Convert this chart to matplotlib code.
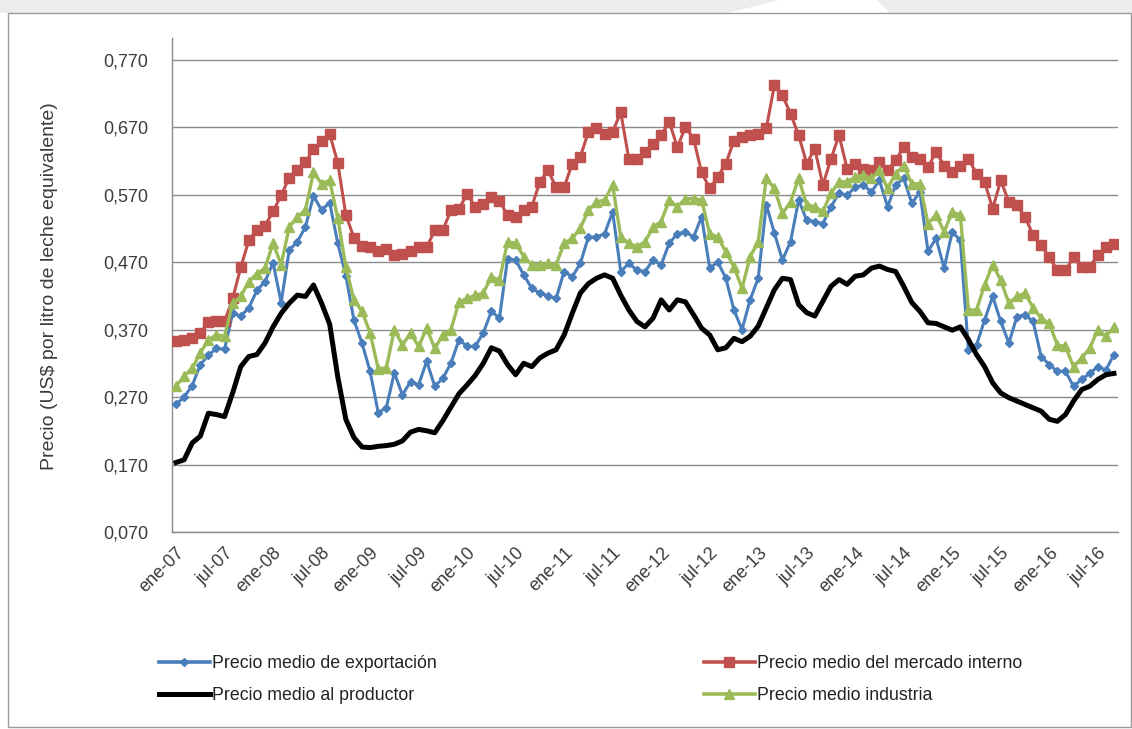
import matplotlib
matplotlib.use("Agg")
import matplotlib.pyplot as plt
from matplotlib.lines import Line2D
from matplotlib.patches import Rectangle, Polygon

# ---------------- data (monthly, ene-07 .. sep-16) ----------------
exportacion = [
    0.259, 0.270, 0.287, 0.318, 0.332, 0.342, 0.341, 0.394, 0.390, 0.402,
    0.428, 0.441, 0.469, 0.410, 0.488, 0.500, 0.522, 0.568, 0.547, 0.558,
    0.498, 0.450, 0.384, 0.350, 0.308, 0.247, 0.254, 0.306, 0.273, 0.293,
    0.288, 0.323, 0.286, 0.298, 0.320, 0.355, 0.345, 0.345, 0.365, 0.397,
    0.387, 0.475, 0.473, 0.451, 0.431, 0.424, 0.420, 0.416, 0.456, 0.448,
    0.468, 0.507, 0.507, 0.512, 0.544, 0.456, 0.468, 0.458, 0.456, 0.473,
    0.466, 0.498, 0.512, 0.515, 0.507, 0.537, 0.461, 0.470, 0.446, 0.399,
    0.370, 0.414, 0.446, 0.555, 0.513, 0.473, 0.500, 0.562, 0.532, 0.530,
    0.527, 0.552, 0.572, 0.569, 0.581, 0.584, 0.574, 0.591, 0.552, 0.584,
    0.594, 0.557, 0.574, 0.486, 0.505, 0.461, 0.515, 0.502, 0.340, 0.347,
    0.384, 0.419, 0.382, 0.350, 0.389, 0.392, 0.382, 0.330, 0.318, 0.308,
    0.308, 0.286, 0.296, 0.305, 0.315, 0.310, 0.333,
]
mercado_interno = [
    0.353, 0.355, 0.357, 0.365, 0.381, 0.383, 0.382, 0.416, 0.462, 0.502,
    0.518, 0.524, 0.545, 0.569, 0.595, 0.607, 0.618, 0.637, 0.649, 0.660,
    0.617, 0.540, 0.506, 0.494, 0.492, 0.487, 0.490, 0.480, 0.482, 0.487,
    0.492, 0.492, 0.517, 0.517, 0.547, 0.549, 0.571, 0.552, 0.556, 0.566,
    0.561, 0.539, 0.537, 0.547, 0.552, 0.589, 0.606, 0.581, 0.581, 0.616,
    0.626, 0.663, 0.668, 0.660, 0.663, 0.692, 0.623, 0.623, 0.633, 0.645,
    0.658, 0.678, 0.640, 0.670, 0.653, 0.603, 0.579, 0.596, 0.616, 0.650,
    0.655, 0.658, 0.660, 0.668, 0.732, 0.717, 0.690, 0.658, 0.616, 0.638,
    0.584, 0.623, 0.658, 0.608, 0.616, 0.608, 0.606, 0.618, 0.606, 0.621,
    0.640, 0.626, 0.623, 0.611, 0.633, 0.613, 0.603, 0.613, 0.623, 0.601,
    0.589, 0.549, 0.591, 0.559, 0.554, 0.537, 0.510, 0.495, 0.477, 0.458,
    0.458, 0.477, 0.463, 0.463, 0.480, 0.492, 0.497,
]
productor = [
    0.173, 0.177, 0.202, 0.212, 0.246, 0.244, 0.241, 0.276, 0.315, 0.330,
    0.333, 0.350, 0.374, 0.394, 0.409, 0.421, 0.419, 0.436, 0.409, 0.378,
    0.300, 0.237, 0.210, 0.196, 0.195, 0.197, 0.198, 0.200, 0.205, 0.218,
    0.222, 0.220, 0.217, 0.235, 0.255, 0.275, 0.288, 0.302, 0.320, 0.343,
    0.338, 0.318, 0.303, 0.320, 0.315, 0.328, 0.335, 0.340, 0.362, 0.394,
    0.424, 0.438, 0.446, 0.451, 0.446, 0.421, 0.399, 0.382, 0.374, 0.387,
    0.414, 0.399, 0.414, 0.411, 0.392, 0.372, 0.362, 0.340, 0.343, 0.357,
    0.352, 0.360, 0.375, 0.402, 0.429, 0.446, 0.444, 0.407, 0.395, 0.390,
    0.412, 0.434, 0.444, 0.437, 0.449, 0.451, 0.461, 0.464, 0.459, 0.456,
    0.434, 0.410, 0.397, 0.380, 0.379, 0.374, 0.369, 0.374, 0.355, 0.333,
    0.315, 0.291, 0.276, 0.269, 0.264, 0.259, 0.254, 0.249, 0.237, 0.234,
    0.244, 0.264, 0.281, 0.286, 0.296, 0.303, 0.305,
]
industria = [
    0.286, 0.301, 0.313, 0.335, 0.355, 0.362, 0.360, 0.409, 0.419, 0.441,
    0.453, 0.461, 0.498, 0.466, 0.522, 0.537, 0.547, 0.603, 0.586, 0.591,
    0.535, 0.463, 0.414, 0.397, 0.365, 0.312, 0.313, 0.370, 0.347, 0.365,
    0.345, 0.372, 0.342, 0.362, 0.370, 0.411, 0.416, 0.421, 0.424, 0.448,
    0.443, 0.500, 0.498, 0.478, 0.466, 0.466, 0.468, 0.466, 0.498, 0.505,
    0.520, 0.547, 0.559, 0.562, 0.584, 0.507, 0.498, 0.493, 0.500, 0.522,
    0.530, 0.562, 0.552, 0.564, 0.564, 0.562, 0.512, 0.507, 0.485, 0.463,
    0.431, 0.478, 0.500, 0.594, 0.579, 0.542, 0.559, 0.594, 0.555, 0.552,
    0.545, 0.572, 0.589, 0.589, 0.596, 0.599, 0.594, 0.606, 0.579, 0.601,
    0.613, 0.586, 0.586, 0.527, 0.540, 0.515, 0.544, 0.540, 0.399, 0.399,
    0.436, 0.466, 0.443, 0.409, 0.419, 0.424, 0.402, 0.387, 0.379, 0.347,
    0.345, 0.315, 0.328, 0.342, 0.370, 0.360, 0.374,
]
tick_labels = [
    "ene-07", "jul-07", "ene-08", "jul-08", "ene-09", "jul-09", "ene-10",
    "jul-10", "ene-11", "jul-11", "ene-12", "jul-12", "ene-13", "jul-13",
    "ene-14", "jul-14", "ene-15", "jul-15", "ene-16", "jul-16",
]
y_ticks = [0.070, 0.170, 0.270, 0.370, 0.470, 0.570, 0.670, 0.770]
series_names = [
    "Precio medio de exportación",
    "Precio medio del mercado interno",
    "Precio medio al productor",
    "Precio medio industria",
]

# ---------------- styling ----------------
FONT = "Liberation Sans"
C_BLUE, C_RED, C_BLACK, C_GREEN = "#4A7EBB", "#C0504D", "#000000", "#9BBB59"
GRID = "#8a8a8a"
TXT = "#3c3c3c"

W, H = 1132, 729
fig = plt.figure(figsize=(W / 100, H / 100), dpi=100)
fig.patch.set_facecolor("white")


def fx(px):
    return px / W


def fy(py):
    return 1 - py / H


# background band on top and outer frame
fig.patches.append(Rectangle((0, fy(13)), 1, 13 / H, transform=fig.transFigure,
                             facecolor="#eeecec", edgecolor="none", zorder=0))
fig.patches.append(Polygon([(fx(727), fy(13)), (fx(780), fy(0)), (fx(877), fy(0)),
                            (fx(890), fy(13))], closed=True, transform=fig.transFigure,
                           facecolor="white", edgecolor="none", zorder=0))
fig.patches.append(Rectangle((fx(8), fy(727)), fx(1131) - fx(8), fy(13) - fy(727),
                             transform=fig.transFigure, facecolor="none",
                             edgecolor="#9c9c9c", lw=1.0, zorder=1))

ax = fig.add_axes([fx(172), fy(532), fx(1118) - fx(172), fy(38) - fy(532)])
ax.set_facecolor("none")

x = list(range(len(exportacion)))
ax.plot(x, exportacion, color=C_BLUE, lw=2.2, marker="D", ms=4.5, mec=C_BLUE, zorder=3)
ax.plot(x, mercado_interno, color=C_RED, lw=2.2, marker="s", ms=7, mec=C_RED, zorder=3)
ax.plot(x, productor, color=C_BLACK, lw=3.6, zorder=3, solid_joinstyle="round")
ax.plot(x, industria, color=C_GREEN, lw=2.4, marker="^", ms=6.5, mec=C_GREEN, zorder=3)

ax.set_xlim(-0.5, len(x) - 0.5)
ax.set_ylim(0.070, 0.802)
ax.set_yticks(y_ticks)
ax.set_yticklabels([f"{v:.3f}".replace(".", ",") for v in y_ticks],
                   fontfamily=FONT, fontsize=13, color=TXT)
ax.set_xticks([6 * k for k in range(len(tick_labels))])
ax.set_xticklabels(tick_labels, rotation=45, ha="right", va="top",
                   rotation_mode="anchor", fontfamily=FONT, fontsize=13, color=TXT)
ax.tick_params(axis="both", length=0)
ax.tick_params(axis="y", pad=17)
ax.tick_params(axis="x", pad=9)
ax.yaxis.grid(True, color=GRID, lw=1.0, zorder=0)
ax.set_axisbelow(True)
for s in ("top", "right"):
    ax.spines[s].set_visible(False)
for s in ("left", "bottom"):
    ax.spines[s].set_color(GRID)
    ax.spines[s].set_linewidth(1.0)

fig.text(fx(50), fy(286), "Precio (US$ por litro de leche equivalente)",
         rotation=90, ha="center", va="center", fontfamily=FONT, fontsize=14,
         color=TXT)


# legend (two columns, row-wise order like the original)
def handle(color, lw, marker, ms):
    return Line2D([], [], color=color, lw=lw, marker=marker, ms=ms, mec=color)


h_blue = handle(C_BLUE, 2.6, "D", 4.5)
h_red = handle(C_RED, 2.6, "s", 7)
h_black = handle(C_BLACK, 3.6, None, 0)
h_green = handle(C_GREEN, 2.6, "^", 6.5)

leg_kw = dict(frameon=False, handlelength=2.85, handletextpad=0.15, labelspacing=0.87,
              borderpad=0, borderaxespad=0, bbox_transform=fig.transFigure,
              loc="upper left", prop={"family": FONT, "size": 12.8})
leg1 = fig.legend([h_blue, h_black], [series_names[0], series_names[2]],
                  bbox_to_anchor=(fx(159), fy(655)), **leg_kw)
leg2 = fig.legend([h_red, h_green], [series_names[1], series_names[3]],
                  bbox_to_anchor=(fx(704), fy(655)), **leg_kw)
for lg in (leg1, leg2):
    for t in lg.get_texts():
        t.set_color("#222222")

fig.savefig("out.png", dpi=100, facecolor="white")
